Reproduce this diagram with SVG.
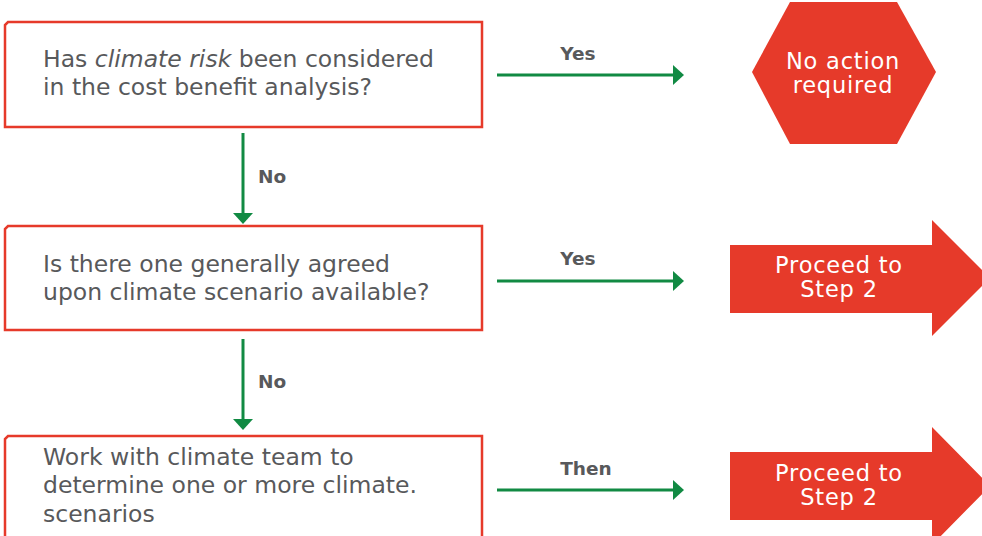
<svg xmlns="http://www.w3.org/2000/svg" width="982" height="536" viewBox="0 0 982 536">
<defs>
<style>
.box{fill:#fff;stroke:#e63a2a;stroke-width:2.5}
.q{font-family:"DejaVu Sans","Liberation Sans",sans-serif;font-size:23.5px;fill:#58595b}
.lbl{font-family:"DejaVu Sans","Liberation Sans",sans-serif;font-size:18.5px;font-weight:bold;fill:#58595b}
.shape{fill:#e63a2a}
.w{font-family:"DejaVu Sans","Liberation Sans",sans-serif;font-size:22.5px;letter-spacing:0.8px;fill:#fff;text-anchor:middle}
.con{stroke:#118a43;stroke-width:3;fill:none}
.head{fill:#118a43}
</style>
</defs>
<rect width="982" height="536" fill="#fff"/>
<g id="q1">
<path class="box" d="M8,22 H482 V127 H5 V25 Z"/>
<text class="q" x="43" y="67">Has <tspan font-style="italic">climate risk</tspan> been considered</text>
<text class="q" x="43" y="95">in the cost benefit analysis?</text>
</g>
<g id="q2">
<path class="box" d="M8,226 H482 V330 H5 V229 Z"/>
<text class="q" x="43" y="272">Is there one generally agreed</text>
<text class="q" x="43" y="300">upon climate scenario available?</text>
</g>
<g id="q3">
<path class="box" d="M8,436 H482 V545 H5 V439 Z"/>
<text class="q" x="43" y="465">Work with climate team to</text>
<text class="q" x="43" y="493">determine one or more climate.</text>
<text class="q" x="43" y="522">scenarios</text>
</g>
<g id="noaction">
<polygon class="shape" points="790,2 897,2 936,72 897,144 790,144 752,72"/>
<text class="w" x="843" y="69">No action</text>
<text class="w" x="843" y="93">required</text>
</g>
<g id="step2a">
<polygon class="shape" points="730,245 932,245 932,220 990,278 932,336 932,313 730,313"/>
<text class="w" x="839" y="273">Proceed to</text>
<text class="w" x="839" y="297">Step 2</text>
</g>
<g id="step2b">
<polygon class="shape" points="730,452 932,452 932,427 990,486 932,545 932,520 730,520"/>
<text class="w" x="839" y="481">Proceed to</text>
<text class="w" x="839" y="505">Step 2</text>
</g>
<g id="connectors">
<line class="con" x1="497" y1="75" x2="674" y2="75"/>
<polygon class="head" points="673,65 684,75 673,85"/>
<text class="lbl" x="578" y="60" text-anchor="middle">Yes</text>
<line class="con" x1="497" y1="281" x2="674" y2="281"/>
<polygon class="head" points="673,271 684,281 673,291"/>
<text class="lbl" x="578" y="265" text-anchor="middle">Yes</text>
<line class="con" x1="497" y1="490" x2="674" y2="490"/>
<polygon class="head" points="673,480 684,490 673,500"/>
<text class="lbl" x="586" y="475" text-anchor="middle">Then</text>
<line class="con" x1="243" y1="133" x2="243" y2="214"/>
<polygon class="head" points="233,213 243,224 253,213"/>
<text class="lbl" x="258" y="183">No</text>
<line class="con" x1="243" y1="339" x2="243" y2="420"/>
<polygon class="head" points="233,419 243,430 253,419"/>
<text class="lbl" x="258" y="388">No</text>
</g>
</svg>
